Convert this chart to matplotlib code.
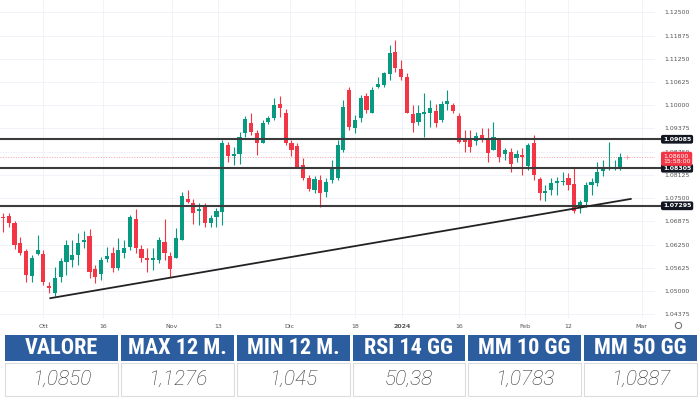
import numpy as np
import matplotlib
matplotlib.use("Agg")
import matplotlib.pyplot as plt
from matplotlib.patches import Rectangle
from matplotlib.transforms import blended_transform_factory

# daily candles (Sept -> Feb)
opens = [1.0700, 1.0702, 1.0683, 1.0629, 1.0608, 1.0541, 1.0600, 1.0600, 1.0514, 1.0495,
         1.0538, 1.0578, 1.0584, 1.0597, 1.0632, 1.0648, 1.0560, 1.0546, 1.0586, 1.0603,
         1.0562, 1.0603, 1.0619, 1.0694, 1.0613, 1.0589, 1.0584, 1.0584, 1.0632, 1.0594,
         1.0589, 1.0637, 1.0748, 1.0737, 1.0716, 1.0726, 1.0683, 1.0699, 1.0713, 1.0893,
         1.0863, 1.0869, 1.0925, 1.0952, 1.0925, 1.0898, 1.0955, 1.0966, 1.1003, 1.0979,
         1.0898, 1.0890, 1.0839, 1.0804, 1.0772, 1.0799, 1.0767, 1.0799, 1.0804, 1.0880,
         1.1041, 1.0939, 1.0966, 1.1025, 1.0979, 1.1049, 1.1054, 1.1084, 1.1143, 1.1098,
         1.1076, 1.0976, 1.0955, 1.0976, 1.0979, 1.0985, 1.0960, 1.1003, 1.1000, 1.0971,
         1.0912, 1.0912, 1.0904, 1.0920, 1.0907, 1.0880, 1.0909, 1.0869, 1.0874, 1.0858,
         1.0866, 1.0837, 1.0898, 1.0802, 1.0764, 1.0772, 1.0791, 1.0794, 1.0804, 1.0788,
         1.0724, 1.0740, 1.0785, 1.0791, 1.0823, 1.0831, 1.0831, 1.0834]
highs = [1.0710, 1.0710, 1.0688, 1.0645, 1.0613, 1.0597, 1.0651, 1.0611, 1.0525, 1.0565,
         1.0589, 1.0637, 1.0637, 1.0656, 1.0661, 1.0667, 1.0570, 1.0592, 1.0619, 1.0619,
         1.0643, 1.0637, 1.0705, 1.0721, 1.0624, 1.0616, 1.0616, 1.0645, 1.0694, 1.0605,
         1.0670, 1.0767, 1.0772, 1.0748, 1.0737, 1.0737, 1.0705, 1.0724, 1.0907, 1.0901,
         1.0888, 1.0928, 1.0971, 1.0979, 1.0933, 1.0960, 1.0971, 1.1020, 1.1025, 1.0990,
         1.0907, 1.0898, 1.0858, 1.0812, 1.0810, 1.0812, 1.0804, 1.0853, 1.0907, 1.1014,
         1.1049, 1.0974, 1.1028, 1.1033, 1.1049, 1.1076, 1.1090, 1.1162, 1.1176, 1.1122,
         1.1087, 1.1000, 1.1000, 1.1033, 1.1014, 1.1003, 1.1012, 1.1041, 1.1006, 1.0979,
         1.0933, 1.0933, 1.0928, 1.0939, 1.0939, 1.0955, 1.0912, 1.0885, 1.0885, 1.0880,
         1.0885, 1.0898, 1.0920, 1.0807, 1.0785, 1.0804, 1.0807, 1.0820, 1.0818, 1.0831,
         1.0745, 1.0794, 1.0804, 1.0847, 1.0853, 1.0901, 1.0853, 1.0872]
lows = [1.0659, 1.0672, 1.0613, 1.0597, 1.0525, 1.0525, 1.0597, 1.0517, 1.0495, 1.0487,
        1.0525, 1.0543, 1.0565, 1.0570, 1.0616, 1.0535, 1.0522, 1.0530, 1.0578, 1.0551,
        1.0557, 1.0589, 1.0611, 1.0603, 1.0578, 1.0551, 1.0557, 1.0576, 1.0584, 1.0538,
        1.0589, 1.0637, 1.0737, 1.0681, 1.0678, 1.0672, 1.0672, 1.0672, 1.0678, 1.0847,
        1.0839, 1.0842, 1.0915, 1.0920, 1.0866, 1.0898, 1.0950, 1.0960, 1.0968, 1.0893,
        1.0863, 1.0831, 1.0799, 1.0769, 1.0764, 1.0726, 1.0753, 1.0791, 1.0799, 1.0874,
        1.0933, 1.0925, 1.0955, 1.0979, 1.0979, 1.1046, 1.1049, 1.1068, 1.1090, 1.1068,
        1.0979, 1.0928, 1.0947, 1.0915, 1.0941, 1.0941, 1.0955, 1.0987, 1.0979, 1.0898,
        1.0874, 1.0874, 1.0893, 1.0901, 1.0847, 1.0880, 1.0847, 1.0853, 1.0820, 1.0847,
        1.0812, 1.0826, 1.0799, 1.0745, 1.0742, 1.0759, 1.0759, 1.0785, 1.0772, 1.0710,
        1.0710, 1.0726, 1.0759, 1.0783, 1.0810, 1.0826, 1.0826, 1.0826]
closes = [1.0697, 1.0683, 1.0624, 1.0603, 1.0543, 1.0589, 1.0611, 1.0525, 1.0508, 1.0535,
          1.0581, 1.0624, 1.0597, 1.0629, 1.0637, 1.0551, 1.0538, 1.0584, 1.0594, 1.0562,
          1.0611, 1.0616, 1.0699, 1.0616, 1.0589, 1.0584, 1.0589, 1.0637, 1.0603, 1.0560,
          1.0643, 1.0756, 1.0740, 1.0710, 1.0721, 1.0683, 1.0697, 1.0716, 1.0898, 1.0863,
          1.0869, 1.0915, 1.0963, 1.0928, 1.0898, 1.0952, 1.0966, 1.1000, 1.0993, 1.0898,
          1.0880, 1.0834, 1.0804, 1.0775, 1.0802, 1.0764, 1.0794, 1.0834, 1.0893, 1.0995,
          1.0941, 1.0960, 1.1020, 1.0987, 1.1041, 1.1057, 1.1087, 1.1141, 1.1100, 1.1076,
          1.0979, 1.0952, 1.0979, 1.0982, 1.0993, 1.0952, 1.1003, 1.1012, 1.0985, 1.0901,
          1.0901, 1.0888, 1.0917, 1.0909, 1.0872, 1.0915, 1.0861, 1.0880, 1.0842, 1.0869,
          1.0861, 1.0893, 1.0812, 1.0764, 1.0769, 1.0791, 1.0796, 1.0796, 1.0785, 1.0716,
          1.0740, 1.0785, 1.0794, 1.0820, 1.0831, 1.0834, 1.0834, 1.0860]

date_pos = [7, 17.3, 29.3, 37.3, 49.7, 61, 69.2, 79, 90.5, 97.9, 110.7]
date_labels = ["Ott", "16", "Nov", "13", "Dic", "18", "2024", "16", "Feb", "12", "Mar"]

levels = [1.09085, 1.08305, 1.07295]
last_price = 1.08600
last_time = "15:58:00"
trend_x = [8.2, 108.8]
trend_y = [1.0481, 1.0748]

headers = ["VALORE", "MAX 12 M.", "MIN 12 M.", "RSI 14 GG", "MM 10 GG", "MM 50 GG"]
values = ["1,0850", "1,1276", "1,045", "50,38", "1,0783", "1,0887"]

GREEN = "#089981"
RED = "#f23645"

fig = plt.figure(figsize=(7, 4), dpi=100)
ax = fig.add_axes([0, 0.205, 0.9357, 0.795])

o = np.array(opens); h = np.array(highs); l = np.array(lows); c = np.array(closes)
x = np.arange(len(o))
cols = np.where(c >= o, GREEN, RED)

ax.vlines(x, l, h, colors=cols, lw=0.8, zorder=3)
body_h = np.maximum(np.abs(c - o), 0.00012)
ax.bar(x, body_h, bottom=np.minimum(o, c), width=0.72, color=cols, zorder=4)

ax.set_xlim(-0.52, 113)
ax.set_ylim(1.04277, 1.12831)

yt = np.arange(1.04375, 1.12501, 0.00625)
ax.set_yticks(yt)
ax.set_yticklabels(["%.5f" % v for v in yt])
ax.yaxis.tick_right()
ax.tick_params(axis="y", length=0, pad=7, labelsize=4.5, labelcolor="#555555")
ax.set_xticks(date_pos)
ax.set_xticklabels(date_labels)
ax.tick_params(axis="x", length=0, pad=4, labelsize=4.5, labelcolor="#555555")
ax.get_xticklabels()[6].set_fontweight("bold")
ax.grid(True, color="#eef1f6", lw=0.6)
for s in ax.spines.values():
    s.set_visible(False)

trans = blended_transform_factory(ax.transAxes, ax.transData)

# support / resistance lines
for lv in levels:
    ax.axhline(lv, xmin=0, xmax=1.012, color="#3b3b3b", lw=1.5, zorder=5, clip_on=False)
    ax.text(1.012, lv, "%.5f" % lv, transform=trans, ha="left", va="center",
            fontsize=4.5, color="white", fontweight="bold", zorder=10, clip_on=False,
            bbox=dict(boxstyle="round,pad=0.3", fc="#131722", ec="none"))

# last price
ax.axhline(last_price, color="#f7a1a9", lw=0.7, ls=":", zorder=2)
ax.plot(108.2, last_price, marker="+", color="#f7a1a9", ms=3, mew=0.7, zorder=3)
ax.text(1.012, last_price - 0.0004, "%.5f\n%s" % (last_price, last_time), transform=trans,
        ha="left", va="center", fontsize=4.5, color="white", linespacing=1.1,
        zorder=10, clip_on=False,
        bbox=dict(boxstyle="round,pad=0.3", fc=RED, ec="none"))

# trendline
ax.plot(trend_x, trend_y, color="#222222", lw=1.3, zorder=6)

# table under the chart
tab = fig.add_axes([0, 0, 1, 1])
tab.set_xlim(0, 700)
tab.set_ylim(400, 0)
tab.axis("off")
tab.patch.set_alpha(0)

n = len(headers)
left, right, gap = 5, 697, 3
cw = (right - left + gap) / n - gap
for k in range(n):
    x0 = left + k * (cw + gap)
    tab.add_patch(Rectangle((x0, 335), cw, 26, fc="#2c5d9f", ec="none"))
    tab.add_patch(Rectangle((x0, 362.5), cw, 33, fc="white", ec="#dcdcdc", lw=0.8))
    tab.text(x0 + cw / 2, 348.5, headers[k], ha="center", va="center", color="white",
             fontsize=16, fontweight="bold", fontstretch="condensed",
             family=["Roboto Condensed", "Liberation Sans Narrow", "DejaVu Sans"])
    tab.text(x0 + cw / 2, 379.5, values[k], ha="center", va="center", color="#333333",
             fontsize=15, style="italic", fontweight="light",
             family=["Roboto", "DejaVu Sans"])

# little clock icon at the end of the time axis
tab.plot(678, 325, marker="o", ms=4.5, mfc="none", mec="#666666", mew=0.7)

fig.savefig("out.png", dpi=100)
